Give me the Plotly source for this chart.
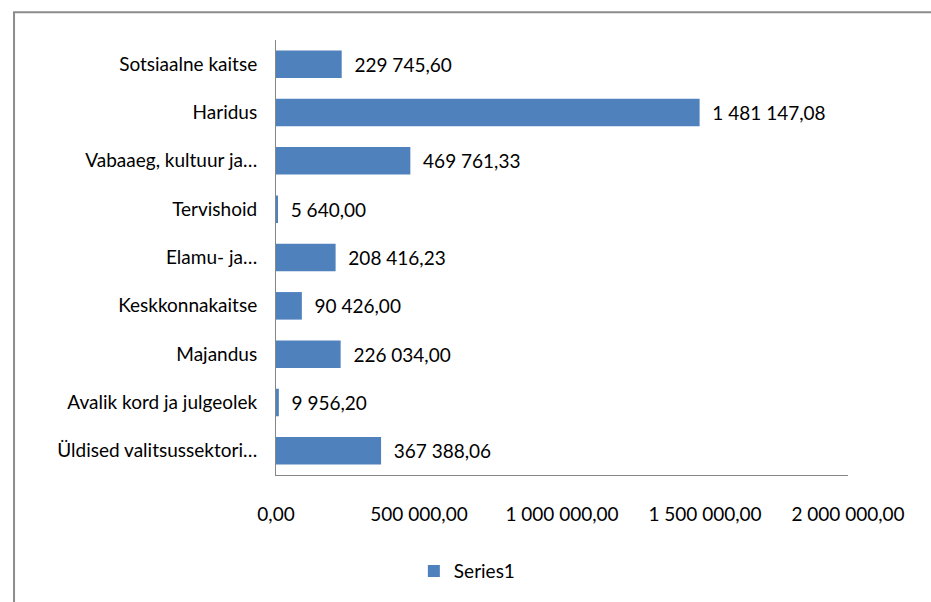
import plotly.graph_objects as go

# data (top to bottom as shown)
categories = [
    "Sotsiaalne kaitse",
    "Haridus",
    "Vabaaeg, kultuur ja…",
    "Tervishoid",
    "Elamu- ja…",
    "Keskkonnakaitse",
    "Majandus",
    "Avalik kord ja julgeolek",
    "Üldised valitsussektori…",
]
values = [229745.60, 1481147.08, 469761.33, 5640.00, 208416.23,
          90426.00, 226034.00, 9956.20, 367388.06]
x_ticks = [0, 500000, 1000000, 1500000, 2000000]

FONT = "Lato"
FS = 19

fig = go.Figure()
fig.add_trace(go.Bar(
    x=values,
    y=categories,
    orientation="h",
    name="Series1",
    marker=dict(color="#4F81BD", line=dict(width=0)),
    texttemplate="\u00a0\u00a0%{x:,.2f}",
    textposition="outside",
    cliponaxis=False,
    textfont=dict(family=FONT, size=FS, color="#000000"),
))

fig.update_layout(
    width=931, height=602,
    margin=dict(l=276, r=83, t=40, b=123),
    paper_bgcolor="white", plot_bgcolor="white",
    separators=", ",
    bargap=0.43,
    font=dict(family=FONT, size=FS, color="#000000"),
    showlegend=True,
    legend=dict(orientation="h", x=0.241, y=-0.221, xanchor="left", yanchor="middle",
                font=dict(family=FONT, size=FS), itemwidth=30),
    xaxis=dict(range=[0, 2000000], tickvals=x_ticks, tickformat=",.2f",
               showgrid=False, zeroline=False, showline=True, linecolor="#868686",
               linewidth=1, ticks="", ticklabelstandoff=22, fixedrange=True),
    yaxis=dict(autorange="reversed", showgrid=False, showline=True,
               linecolor="#868686", linewidth=1, ticks="", ticklabelstandoff=14),
    shapes=[dict(type="rect", xref="paper", yref="paper",
                 x0=-0.458, x1=2, y0=-1, y1=1.064,
                 line=dict(color="#8c8c8c", width=2), fillcolor="rgba(0,0,0,0)")],
)

fig.write_html("out.html", config={"displayModeBar": False},
               post_script="document.body.style.margin='0';")
